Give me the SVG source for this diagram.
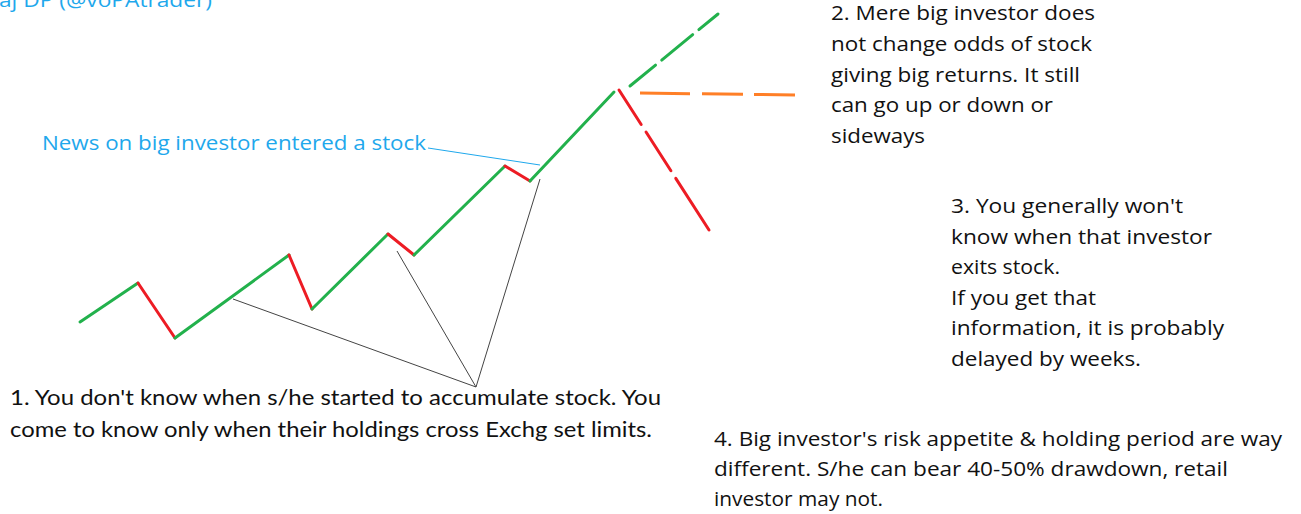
<svg xmlns="http://www.w3.org/2000/svg" width="1301" height="514" viewBox="0 0 1301 514">
<style>
.t{font-family:"Open Sans","Noto Sans","Liberation Sans",sans-serif;font-size:20px;fill:#111}
.c{font-family:Lato,"Open Sans","Liberation Sans",sans-serif;font-size:21px;fill:#111}
.blue{font-family:"Open Sans","Noto Sans","Liberation Sans",sans-serif;font-size:20px;fill:#1fa8ec}
.up{stroke:#22b14c;stroke-width:3;fill:none;stroke-linecap:round}
.dn{stroke:#ed1c24;stroke-width:3;fill:none;stroke-linecap:round}
.or{stroke:#ff7f27;stroke-width:3;fill:none}
.ptr{stroke:#444;stroke-width:1;fill:none}
</style>
<rect width="1301" height="514" fill="#fff"/>
<g id="header"><text class="blue" x="-1" y="7" textLength="213" lengthAdjust="spacingAndGlyphs">aj DP (@voPAtrader)</text></g>
<g id="price-path">
<line class="up" x1="80" y1="322" x2="138" y2="283"/>
<line class="dn" x1="138" y1="283" x2="175" y2="338"/>
<line class="up" x1="175" y1="338" x2="289" y2="255"/>
<line class="dn" x1="289" y1="255" x2="312" y2="309"/>
<line class="up" x1="312" y1="309" x2="388" y2="234"/>
<line class="dn" x1="388" y1="234" x2="414" y2="255"/>
<line class="up" x1="414" y1="255" x2="505" y2="166"/>
<line class="dn" x1="505" y1="166" x2="530" y2="181"/>
<line class="up" x1="530" y1="181" x2="614" y2="92"/>
</g>
<g id="scenarios">
<line class="up" x1="630" y1="86" x2="718" y2="14" stroke-dasharray="33 8 40 8 60" stroke-linecap="butt"/>
<line class="dn" x1="619" y1="90" x2="709" y2="230" stroke-dasharray="41 9 46 9 80" stroke-linecap="butt"/>
<line class="or" x1="640" y1="93" x2="795" y2="95" stroke-dasharray="50 12 41 11 60"/>
</g>
<g id="connectors">
<line class="ptr" x1="233" y1="299" x2="476" y2="387"/>
<line class="ptr" x1="397" y1="251" x2="476" y2="387"/>
<line class="ptr" x1="540" y1="179" x2="476" y2="387"/>
<line x1="428" y1="148" x2="540" y2="165" stroke="#1fa8ec" stroke-width="1"/>
</g>
<g id="news-label"><text class="blue" x="42" y="150" textLength="384" lengthAdjust="spacingAndGlyphs">News on big investor entered a stock</text></g>
<g id="note1">
<text class="c" x="10" y="405" textLength="651" lengthAdjust="spacingAndGlyphs">1. You don't know when s/he started to accumulate stock. You</text>
<text class="c" x="10" y="437" textLength="642" lengthAdjust="spacingAndGlyphs">come to know only when their holdings cross Exchg set limits.</text>
</g>
<g id="note2">
<text class="t" x="831" y="20" textLength="264" lengthAdjust="spacingAndGlyphs">2. Mere big investor does</text>
<text class="t" x="831" y="51" textLength="261" lengthAdjust="spacingAndGlyphs">not change odds of stock</text>
<text class="t" x="831" y="82" textLength="249" lengthAdjust="spacingAndGlyphs">giving big returns. It still</text>
<text class="t" x="831" y="112" textLength="222" lengthAdjust="spacingAndGlyphs">can go up or down or</text>
<text class="t" x="831" y="143" textLength="94" lengthAdjust="spacingAndGlyphs">sideways</text>
</g>
<g id="note3">
<text class="t" x="951" y="213" textLength="232" lengthAdjust="spacingAndGlyphs">3. You generally won't</text>
<text class="t" x="951" y="244" textLength="261" lengthAdjust="spacingAndGlyphs">know when that investor</text>
<text class="t" x="951" y="274" textLength="109" lengthAdjust="spacingAndGlyphs">exits stock.</text>
<text class="t" x="951" y="305" textLength="145" lengthAdjust="spacingAndGlyphs">If you get that</text>
<text class="t" x="951" y="335" textLength="273" lengthAdjust="spacingAndGlyphs">information, it is probably</text>
<text class="t" x="951" y="366" textLength="190" lengthAdjust="spacingAndGlyphs">delayed by weeks.</text>
</g>
<g id="note4">
<text class="t" x="714" y="446" textLength="568" lengthAdjust="spacingAndGlyphs">4. Big investor's risk appetite &amp; holding period are way</text>
<text class="t" x="714" y="476" textLength="514" lengthAdjust="spacingAndGlyphs">different. S/he can bear 40-50% drawdown, retail</text>
<text class="t" x="714" y="506" textLength="169" lengthAdjust="spacingAndGlyphs">investor may not.</text>
</g>
</svg>
